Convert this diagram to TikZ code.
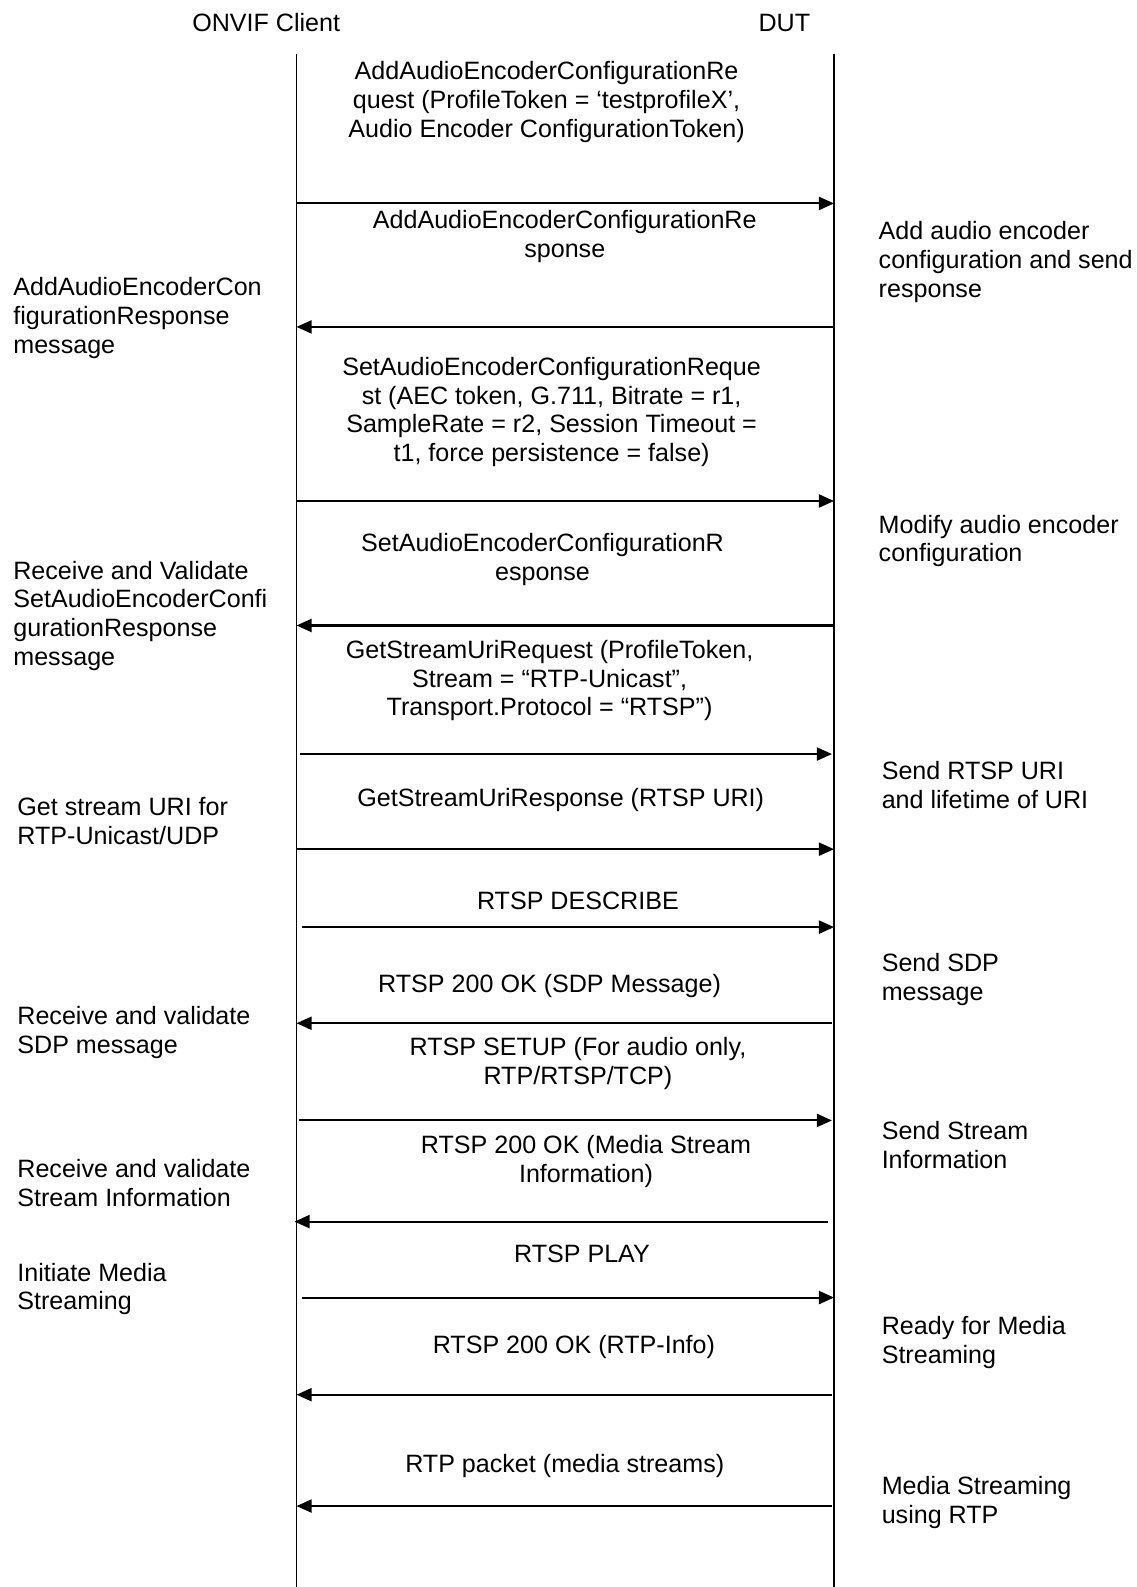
\documentclass[tikz,border=0pt]{standalone}
\usepackage{fontspec}
\setmainfont{Liberation Sans}
\usetikzlibrary{arrows.meta}
\begin{document}
\begin{tikzpicture}[x=1pt,y=-1pt,
  txt/.style={font=\fontsize{24.8}{28.5}\selectfont, inner sep=0pt, align=center, yshift=-2.5pt},
  lnote/.style={txt, align=left, anchor=west},
  life/.style={line width=1.4pt, black},
  msg/.style={line width=2pt, -{Triangle[length=15pt,width=13pt]}}]
\useasboundingbox (0,0) rectangle (1123,1568);
% headers
\node[txt] (hc) at (263,20) {ONVIF Client};
\node[txt] (hd) at (775,20) {DUT};
% lifelines
\coordinate (ct) at (293,53); \coordinate (cb) at (293,1568);
\coordinate (dt) at (824,53); \coordinate (db) at (824,1568);
\draw[life] (ct) -- (cb);
\draw[life] (dt) -- (db);
% arrow endpoints
\coordinate (l1) at (293,201);  \coordinate (r1) at (824,201);
\coordinate (l2) at (293,323);  \coordinate (r2) at (824,323);
\coordinate (l3) at (293,495);  \coordinate (r3) at (824,495);
\coordinate (l4) at (293,618);  \coordinate (r4) at (824,618);
\coordinate (l5) at (296,745);  \coordinate (r5) at (822,745);
\coordinate (l6) at (293,839);  \coordinate (r6) at (824,839);
\coordinate (l7) at (298,916);  \coordinate (r7) at (824,916);
\coordinate (l8) at (293,1011); \coordinate (r8) at (822,1011);
\coordinate (l9) at (295,1107); \coordinate (r9) at (822,1107);
\coordinate (l10) at (291,1207); \coordinate (r10) at (818,1207);
\coordinate (l11) at (298,1282); \coordinate (r11) at (824,1282);
\coordinate (l12) at (293,1378); \coordinate (r12) at (822,1378);
\coordinate (l13) at (293,1488); \coordinate (r13) at (822,1488);
\draw[msg] (l1) -- (r1);
\draw[msg] (r2) -- (l2);
\draw[msg] (l3) -- (r3);
\draw[msg] (r4) -- (l4);
\draw[msg] (l5) -- (r5);
\draw[msg] (l6) -- (r6);
\draw[msg] (l7) -- (r7);
\draw[msg] (r8) -- (l8);
\draw[msg] (l9) -- (r9);
\draw[msg] (r10) -- (l10);
\draw[msg] (l11) -- (r11);
\draw[msg] (r12) -- (l12);
\draw[msg] (r13) -- (l13);
% message labels
\node[txt] (m1) at (540,98.5) {AddAudioEncoderConfigurationRe\\quest (ProfileToken = ‘testprofileX’,\\Audio Encoder ConfigurationToken)};
\node[txt] (m2) at (558,231) {AddAudioEncoderConfigurationRe\\sponse};
\node[txt] (m3) at (545,404.5) {SetAudioEncoderConfigurationReque\\st (AEC token, G.711, Bitrate = r1,\\SampleRate = r2, Session Timeout =\\t1, force persistence = false)};
\node[txt] (m4) at (536,550.5) {SetAudioEncoderConfigurationR\\esponse};
\node[txt] (m5) at (543,670) {GetStreamUriRequest (ProfileToken,\\Stream = “RTP-Unicast”,\\Transport.Protocol = “RTSP”)};
\node[txt] (m6) at (554,788) {GetStreamUriResponse (RTSP URI)};
\node[txt] (m7) at (571,888) {RTSP DESCRIBE};
\node[txt] (m8) at (543,972) {RTSP 200 OK (SDP Message)};
\node[txt] (m9) at (571,1048) {RTSP SETUP (For audio only,\\RTP/RTSP/TCP)};
\node[txt] (m10) at (579,1145) {RTSP 200 OK (Media Stream\\Information)};
\node[txt] (m11) at (575,1236) {RTSP PLAY};
\node[txt] (m12) at (567,1328) {RTSP 200 OK (RTP-Info)};
\node[txt] (m13) at (558,1446) {RTP packet (media streams)};
% DUT notes
\node[lnote] (n1) at (868,256.5) {Add audio encoder\\configuration and send\\response};
\node[lnote] (n2) at (868,532) {Modify audio encoder\\configuration};
\node[lnote] (n3) at (871,773.5) {Send RTSP URI\\and lifetime of URI};
\node[lnote] (n4) at (871,965.5) {Send SDP\\message};
\node[lnote] (n5) at (871,1129) {Send Stream\\Information};
\node[lnote] (n6) at (871,1324) {Ready for Media\\Streaming};
\node[lnote] (n7) at (871,1482) {Media Streaming\\using RTP};
% client notes
\node[lnote] (c1) at (13,311.5) {AddAudioEncoderCon\\figurationResponse\\message};
\node[lnote] (c2) at (13,606) {Receive and Validate\\SetAudioEncoderConfi\\gurationResponse\\message};
\node[lnote] (c3) at (17,809) {Get stream URI for\\RTP-Unicast/UDP};
\node[lnote] (c4) at (17,1018) {Receive and validate\\SDP message};
\node[lnote] (c5) at (17,1166) {Receive and validate\\Stream Information};
\node[lnote] (c6) at (17,1271) {Initiate Media\\Streaming};
\end{tikzpicture}
\end{document}
